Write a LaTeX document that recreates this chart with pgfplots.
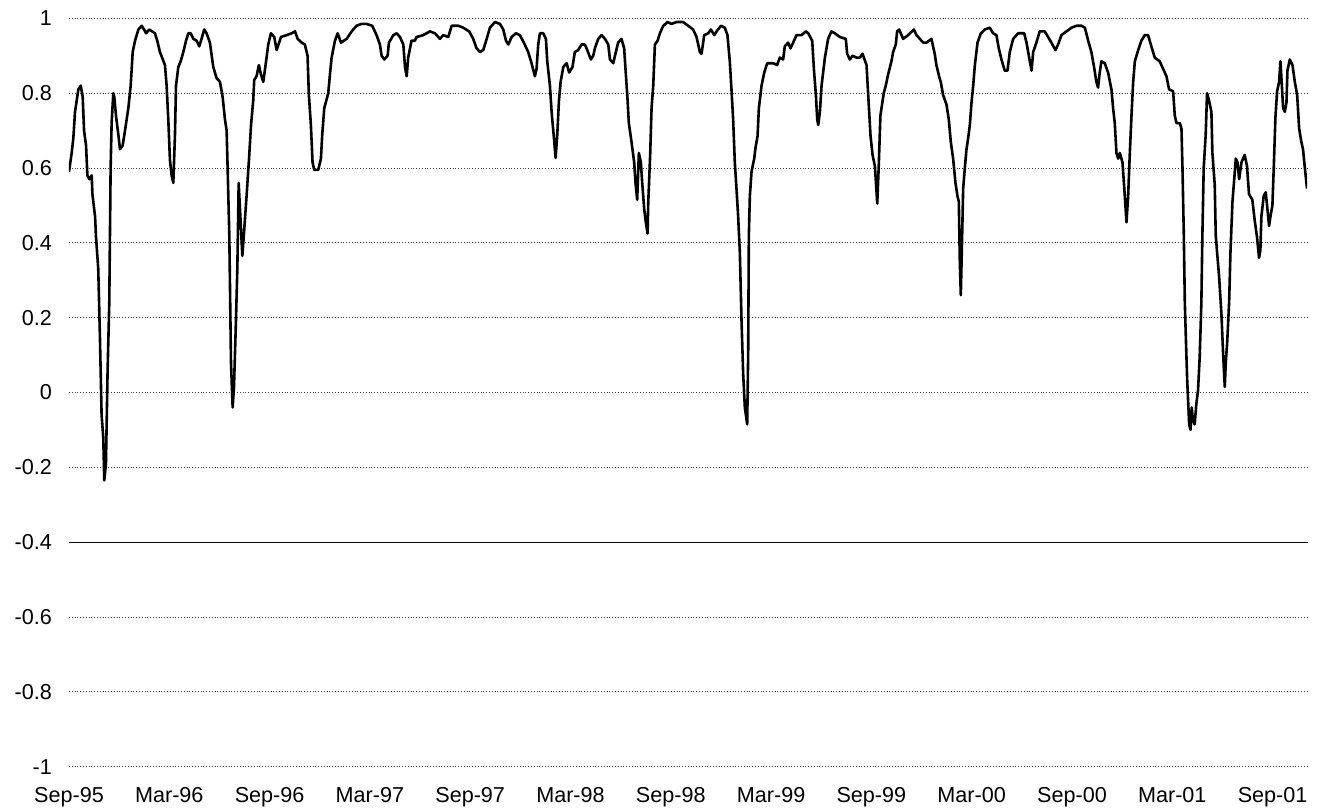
\documentclass[border=0pt]{standalone}
\usepackage{fontspec}
\setmainfont{Liberation Sans}
\usepackage{pgfplots}
\pgfplotsset{compat=1.18}
\pgfplotstableread{
m y
0.00 0.59
0.16 0.64
0.26 0.68
0.36 0.75
0.56 0.81
0.70 0.82
0.82 0.79
0.90 0.70
1.02 0.66
1.10 0.58
1.22 0.57
1.36 0.58
1.40 0.53
1.56 0.47
1.61 0.42
1.75 0.33
1.85 0.15
1.95 -0.06
2.05 -0.12
2.11 -0.235
2.21 -0.19
2.31 0.06
2.41 0.24
2.49 0.60
2.55 0.72
2.65 0.80
2.71 0.79
2.81 0.74
2.95 0.69
3.05 0.65
3.21 0.66
3.35 0.70
3.55 0.76
3.69 0.82
3.81 0.91
3.95 0.94
4.15 0.97
4.35 0.98
4.49 0.97
4.61 0.96
4.80 0.97
5.14 0.96
5.28 0.94
5.44 0.91
5.74 0.875
5.84 0.82
5.94 0.73
6.04 0.62
6.14 0.58
6.24 0.56
6.34 0.69
6.40 0.82
6.54 0.87
6.68 0.885
6.84 0.91
7.00 0.94
7.14 0.96
7.28 0.96
7.44 0.945
7.64 0.94
7.79 0.925
7.93 0.945
8.09 0.97
8.23 0.96
8.43 0.935
8.63 0.87
8.83 0.84
9.03 0.83
9.19 0.79
9.33 0.73
9.43 0.70
9.49 0.60
9.59 0.42
9.63 0.285
9.69 0.08
9.79 -0.04
9.87 0.015
9.99 0.195
10.07 0.33
10.15 0.56
10.37 0.365
10.49 0.44
10.63 0.53
10.77 0.625
10.89 0.715
11.02 0.78
11.08 0.835
11.22 0.845
11.36 0.875
11.48 0.85
11.62 0.83
11.76 0.875
11.92 0.93
12.08 0.96
12.28 0.95
12.42 0.915
12.68 0.95
13.02 0.955
13.32 0.96
13.52 0.965
13.68 0.945
13.92 0.935
14.11 0.93
14.27 0.90
14.35 0.795
14.47 0.715
14.57 0.615
14.67 0.595
14.91 0.595
15.07 0.625
15.15 0.69
15.27 0.76
15.51 0.80
15.61 0.85
15.71 0.895
15.91 0.94
16.07 0.96
16.27 0.935
16.61 0.945
16.91 0.965
17.20 0.98
17.50 0.985
17.80 0.985
18.14 0.98
18.40 0.955
18.60 0.93
18.70 0.90
18.86 0.89
19.06 0.90
19.14 0.935
19.40 0.955
19.60 0.96
19.80 0.95
20.00 0.93
20.10 0.87
20.20 0.845
20.29 0.895
20.49 0.94
20.69 0.94
20.79 0.95
21.19 0.955
21.59 0.965
21.89 0.96
22.19 0.945
22.39 0.955
22.69 0.95
22.89 0.98
23.29 0.98
23.58 0.975
23.94 0.965
24.18 0.945
24.38 0.92
24.58 0.91
24.78 0.915
25.02 0.95
25.18 0.975
25.48 0.99
25.78 0.985
25.98 0.97
26.14 0.94
26.28 0.93
26.48 0.95
26.73 0.96
26.97 0.955
27.21 0.935
27.47 0.91
27.67 0.88
27.87 0.845
27.97 0.865
28.07 0.93
28.17 0.96
28.37 0.96
28.53 0.945
28.61 0.885
28.77 0.82
28.87 0.75
29.01 0.68
29.11 0.627
29.21 0.69
29.31 0.78
29.41 0.83
29.57 0.87
29.77 0.88
29.92 0.855
30.12 0.87
30.26 0.91
30.46 0.915
30.66 0.93
30.86 0.93
30.96 0.92
31.22 0.89
31.36 0.90
31.46 0.92
31.66 0.945
31.86 0.955
32.06 0.945
32.26 0.93
32.36 0.89
32.56 0.88
32.66 0.90
32.85 0.935
33.05 0.945
33.21 0.92
33.29 0.865
33.41 0.785
33.49 0.72
33.65 0.67
33.81 0.615
33.89 0.56
33.99 0.515
34.09 0.64
34.21 0.615
34.29 0.56
34.41 0.49
34.49 0.46
34.61 0.425
34.65 0.505
34.77 0.64
34.85 0.76
34.95 0.82
35.05 0.93
35.21 0.94
35.35 0.96
35.55 0.98
35.81 0.99
36.04 0.985
36.34 0.99
36.74 0.99
37.04 0.98
37.34 0.97
37.54 0.95
37.74 0.91
37.84 0.905
38.00 0.955
38.24 0.96
38.40 0.97
38.60 0.955
38.74 0.965
39.00 0.98
39.23 0.975
39.39 0.955
39.53 0.885
39.63 0.81
39.73 0.73
39.83 0.615
39.93 0.545
40.03 0.47
40.13 0.375
40.23 0.195
40.33 0.05
40.43 -0.04
40.57 -0.085
40.63 0.105
40.67 0.42
40.73 0.525
40.83 0.59
40.99 0.625
41.07 0.655
41.19 0.685
41.27 0.76
41.43 0.82
41.59 0.855
41.77 0.88
42.13 0.88
42.36 0.875
42.52 0.895
42.72 0.89
42.82 0.925
43.02 0.935
43.16 0.92
43.32 0.935
43.52 0.955
43.82 0.955
44.08 0.965
44.22 0.96
44.46 0.94
44.56 0.865
44.68 0.795
44.76 0.73
44.82 0.715
44.92 0.75
45.02 0.82
45.22 0.895
45.41 0.945
45.61 0.965
45.81 0.96
46.11 0.95
46.47 0.945
46.55 0.905
46.71 0.89
46.87 0.90
47.11 0.895
47.31 0.895
47.47 0.905
47.71 0.875
47.81 0.795
47.95 0.685
48.07 0.635
48.21 0.605
48.31 0.535
48.35 0.505
48.44 0.605
48.54 0.74
48.74 0.80
48.86 0.82
49.00 0.85
49.20 0.885
49.30 0.91
49.46 0.93
49.54 0.965
49.66 0.97
49.90 0.945
50.20 0.955
50.54 0.97
50.70 0.955
50.90 0.945
51.10 0.935
51.30 0.935
51.59 0.945
51.79 0.905
51.89 0.875
52.05 0.845
52.15 0.83
52.29 0.795
52.49 0.77
52.63 0.73
52.75 0.67
52.89 0.625
53.03 0.56
53.15 0.525
53.23 0.51
53.29 0.35
53.35 0.26
53.43 0.42
53.49 0.545
53.59 0.60
53.69 0.65
53.79 0.68
53.89 0.715
53.99 0.775
54.09 0.82
54.19 0.875
54.35 0.935
54.55 0.96
54.78 0.97
55.08 0.975
55.28 0.96
55.48 0.955
55.62 0.92
55.78 0.89
55.98 0.86
56.14 0.86
56.28 0.91
56.48 0.945
56.78 0.96
57.14 0.96
57.28 0.935
57.48 0.885
57.58 0.86
57.68 0.91
57.87 0.935
58.07 0.965
58.37 0.965
58.57 0.95
58.77 0.935
59.01 0.915
59.17 0.93
59.37 0.955
59.67 0.965
59.97 0.975
60.27 0.98
60.57 0.98
60.77 0.975
60.97 0.94
61.16 0.91
61.32 0.87
61.46 0.83
61.56 0.815
61.66 0.855
61.76 0.885
61.96 0.88
62.16 0.855
62.36 0.81
62.46 0.76
62.56 0.72
62.66 0.64
62.76 0.625
62.86 0.64
63.02 0.615
63.16 0.525
63.26 0.455
63.36 0.525
63.46 0.64
63.56 0.74
63.66 0.83
63.76 0.885
63.96 0.915
64.15 0.94
64.35 0.955
64.55 0.955
64.75 0.925
64.95 0.895
65.25 0.885
65.45 0.865
65.65 0.845
65.81 0.81
66.05 0.805
66.15 0.74
66.25 0.72
66.45 0.72
66.55 0.705
66.61 0.60
66.69 0.42
66.75 0.24
66.81 0.15
66.89 0.035
67.01 -0.085
67.09 -0.10
67.16 -0.04
67.24 -0.075
67.34 -0.085
67.44 -0.03
67.54 0.005
67.64 0.095
67.74 0.24
67.80 0.42
67.88 0.60
68.00 0.69
68.08 0.80
68.20 0.78
68.34 0.75
68.40 0.64
68.54 0.555
68.60 0.42
68.68 0.375
68.80 0.31
68.94 0.21
69.04 0.105
69.14 0.015
69.20 0.08
69.28 0.13
69.40 0.24
69.48 0.375
69.60 0.51
69.74 0.59
69.80 0.625
69.90 0.615
70.00 0.57
70.14 0.615
70.33 0.635
70.47 0.605
70.59 0.53
70.79 0.515
70.93 0.46
71.07 0.415
71.19 0.36
71.27 0.38
71.33 0.47
71.47 0.525
71.59 0.535
71.67 0.50
71.79 0.445
71.87 0.47
71.99 0.50
72.07 0.60
72.17 0.735
72.27 0.805
72.39 0.83
72.47 0.885
72.53 0.84
72.63 0.76
72.73 0.75
72.83 0.775
72.89 0.86
73.03 0.89
73.19 0.875
73.33 0.83
73.47 0.795
73.59 0.705
73.72 0.67
73.82 0.65
73.92 0.605
74.06 0.545
}\corr
\begin{document}
\begin{tikzpicture}
\begin{axis}[
  scale only axis, width=619pt, height=374.2pt,
  xmin=0, xmax=74.06, ymin=-1, ymax=1,
  axis line style={draw=none},
  major tick length=0pt,
  xtick={0,6,12,18,24,30,36,42,48,54,60,66,72},
  xticklabels={Sep-95,Mar-96,Sep-96,Mar-97,Sep-97,Mar-98,Sep-98,Mar-99,Sep-99,Mar-00,Sep-00,Mar-01,Sep-01},
  ytick={-1,-0.8,-0.6,-0.4,-0.2,0,0.2,0.4,0.6,0.8,1},
  yticklabels={-1,-0.8,-0.6,-0.4,-0.2,0,0.2,0.4,0.6,0.8,1},
  ymajorgrids,
  major grid style={densely dotted, black!75, line width=0.4pt},
  tick label style={font=\fontsize{10.8}{12}\selectfont},
  yticklabel style={xshift=-5pt},
  xticklabel style={yshift=-7pt},
]
\draw[black, line width=0.5pt] (axis cs:0,-0.4) -- (axis cs:74.06,-0.4);
\addplot[black, line width=1.3pt, line join=round, mark=none] table[x=m, y=y] {\corr};
\end{axis}
\pgfresetboundingbox
\path (current axis.south west) ++(-34.5pt,-21.15pt) rectangle ([shift={(8.5pt,9.15pt)}]current axis.north east);
\end{tikzpicture}
\end{document}
